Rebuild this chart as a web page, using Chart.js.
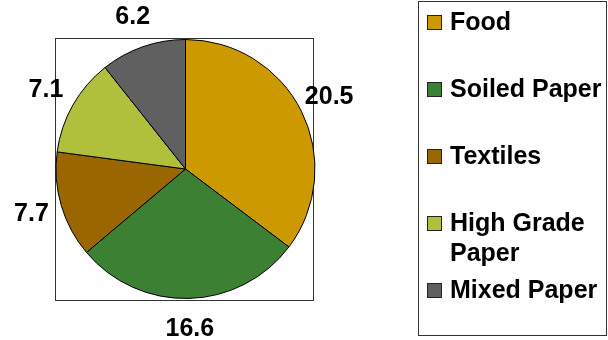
<!DOCTYPE html>
<html>
<head>
<meta charset="utf-8">
<script src="https://cdn.jsdelivr.net/npm/chart.js@4"></script>
<style>
  body { margin: 0; background: #fff; }
  canvas { display: block; }
</style>
</head>
<body>
<canvas id="grafico" width="608" height="340"></canvas>
<script>
// Datos del gráfico
const categorias = ['Food', 'Soiled Paper', 'Textiles', 'High Grade Paper', 'Mixed Paper'];
const valores = [20.5, 16.6, 7.7, 7.1, 6.2];
const colores = ['#CC9900', '#3B8033', '#996600', '#B0BF3C', '#606060'];
// Texto de la leyenda (con salto de línea como en el original)
const etiquetasLeyenda = [['Food'], ['Soiled Paper'], ['Textiles'], ['High Grade', 'Paper'], ['Mixed Paper']];

const fuente = 'bold 25px "Liberation Sans", Arial, sans-serif';

// Plugin para la caja, las etiquetas y la leyenda
const adornos = {
    id: 'adornos',
    beforeDatasetsDraw(chart) {
        const c = chart.ctx;
        c.save();
        c.strokeStyle = '#333';
        c.lineWidth = 1;
        c.strokeRect(55.5, 38.5, 258, 262); // caja del área del pastel
        c.restore();
    },
    afterDraw(chart) {
        const c = chart.ctx;
        const arcos = chart.getDatasetMeta(0).data;
        c.save();
        c.font = fuente;
        c.fillStyle = '#000';
        c.textAlign = 'center';
        c.textBaseline = 'middle';
        // Valores alrededor del pastel
        arcos.forEach((a, i) => {
            const ang = (a.startAngle + a.endAngle) / 2;
            const r = a.outerRadius + 31;
            c.fillText(valores[i].toFixed(1), a.x + Math.cos(ang) * r, a.y + Math.sin(ang) * r);
        });

        // Leyenda
        c.strokeStyle = '#333';
        c.lineWidth = 1;
        c.strokeRect(418.5, 1.5, 188, 334);
        c.textAlign = 'left';
        etiquetasLeyenda.forEach((lineas, i) => {
            const y = 22 + i * 67;
            c.fillStyle = colores[i];
            c.fillRect(427, y - 7, 15, 15);
            c.strokeStyle = '#222';
            c.strokeRect(427.5, y - 6.5, 14, 14);
            c.fillStyle = '#000';
            lineas.forEach((t, j) => c.fillText(t, 450, y + 1 + j * 30));
        });
        c.restore();
    }
};

new Chart(document.getElementById('grafico'), {
    type: 'pie',
    data: {
        labels: categorias,
        datasets: [{
            data: valores,
            backgroundColor: colores,
            borderColor: '#000',
            borderWidth: 1
        }]
    },
    options: {
        responsive: false,
        animation: false,
        layout: { padding: { left: 55, right: 292, top: 39, bottom: 41 } },
        plugins: {
            legend: { display: false },
            tooltip: { enabled: false }
        }
    },
    plugins: [adornos]
});
</script>
</body>
</html>
